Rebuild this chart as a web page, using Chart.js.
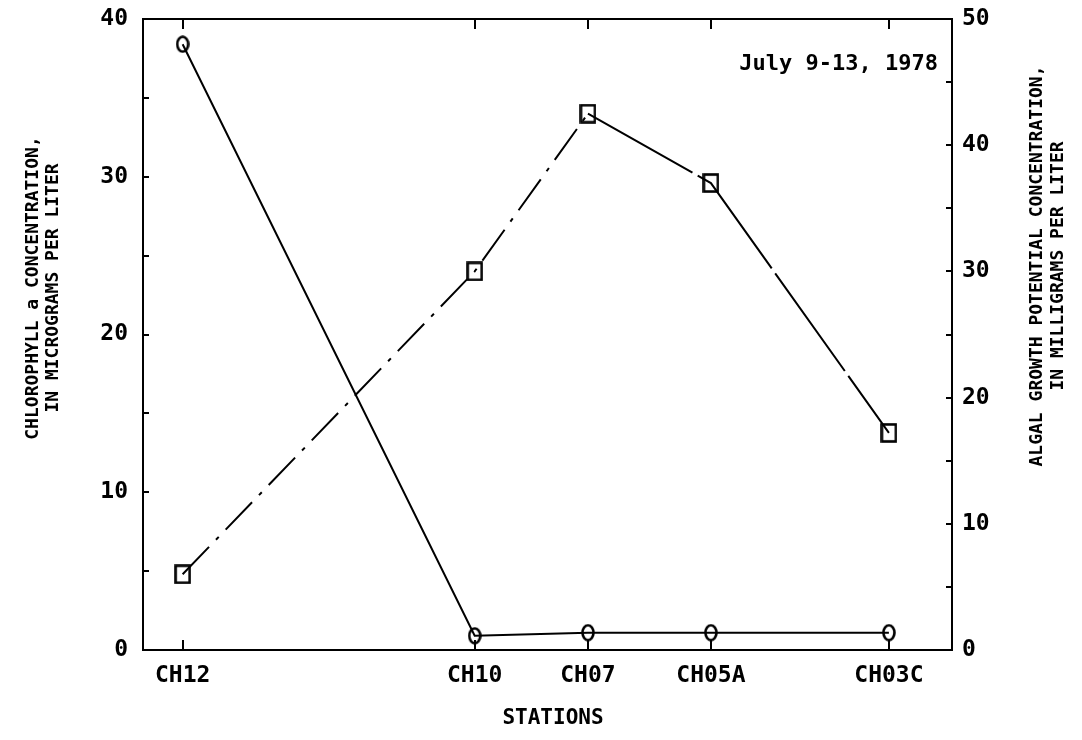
<!DOCTYPE html>
<html>
<head>
<meta charset="utf-8">
<script src="https://cdn.jsdelivr.net/npm/chart.js@4/dist/chart.umd.min.js"></script>
<style>
  body { margin: 0; background: #fff; }
  #wrap { width: 1082px; height: 740px; }
</style>
</head>
<body>
<div id="wrap"><canvas id="agpChart" width="1082" height="740"></canvas></div>
<script>
// stations along the channel, x position in plot units (0-100)
const stations = ['CH12', 'CH10', 'CH07', 'CH05A', 'CH03C'];
const stationPos = [4.9, 41.0, 55.0, 70.2, 92.2];

// chlorophyll a, micrograms per liter (left axis)
const chlorophyll = [38.4, 0.9, 1.1, 1.1, 1.1];
// algal growth potential, milligrams per liter (right axis)
const agp = [6.0, 30.0, 42.5, 37.0, 17.2];

const TICK_FONT = { family: 'DejaVu Sans Mono', size: 23, weight: 'bold' };
const TITLE_FONT = 'bold 18px "DejaVu Sans Mono"';

function makeMarker(w, h, shape) {
    const c = document.createElement('canvas');
    c.width = w; c.height = h;
    const g = c.getContext('2d');
    g.strokeStyle = '#000';
    g.lineWidth = 2.6;
    if (shape === 'ellipse') {
        g.beginPath();
        g.ellipse(w / 2, h / 2, w / 2 - 1.5, h / 2 - 1.5, 0, 0, Math.PI * 2);
        g.stroke();
    } else {
        g.strokeRect(1.5, 1.5, w - 3, h - 3);
    }
    return c;
}

const circleMark = makeMarker(14, 18, 'ellipse');
const squareMark = makeMarker(17, 20, 'rect');

// no extra room around the plot for half-height labels
function fixPad(s) {
    s.paddingTop = 0;
    s.paddingBottom = 0;
    s.paddingLeft = 0;
    s.paddingRight = 0;
}

// axis titles and the date note
const textPlugin = {
    id: 'texts',
    afterDraw(chart) {
        const ctx = chart.ctx;
        ctx.save();
        ctx.fillStyle = '#000';
        ctx.font = TITLE_FONT;
        ctx.textBaseline = 'middle';
        ctx.textAlign = 'center';

        function vertical(text, x, y) {
            ctx.save();
            ctx.translate(x, y);
            ctx.rotate(-Math.PI / 2);
            ctx.fillText(text, 0, 0);
            ctx.restore();
        }

        vertical('CHLOROPHYLL a CONCENTRATION,', 33, 288);
        vertical('IN MICROGRAMS PER LITER', 53, 288);
        vertical('ALGAL GROWTH POTENTIAL CONCENTRATION,', 1037, 266);
        vertical('IN MILLIGRAMS PER LITER', 1058, 266);

        ctx.font = 'bold 21px "DejaVu Sans Mono"';
        ctx.fillText('STATIONS', 553, 719);

        ctx.font = 'bold 22px "DejaVu Sans Mono"';
        ctx.textAlign = 'right';
        ctx.fillText('July 9-13, 1978', 938, 64);
        ctx.restore();
    }
};

const ctx = document.getElementById('agpChart').getContext('2d');

new Chart(ctx, {
    type: 'line',
    data: {
        datasets: [{
            label: 'Chlorophyll a',
            data: stationPos.map((x, i) => ({ x: x, y: chlorophyll[i] })),
            xAxisID: 'x',
            yAxisID: 'y',
            borderColor: '#000',
            borderWidth: 2,
            pointStyle: circleMark,
            tension: 0
        }, {
            label: 'Algal growth potential',
            data: stationPos.map((x, i) => ({ x: x, y: agp[i] })),
            xAxisID: 'x',
            yAxisID: 'y2',
            borderColor: '#000',
            borderWidth: 2,
            pointStyle: squareMark,
            tension: 0,
            segment: {
                borderDash: c => c.p0DataIndex < 2 ? [38, 10, 4, 10] : [120, 6]
            }
        }]
    },
    options: {
        responsive: false,
        animation: false,
        layout: { padding: 0 },
        plugins: {
            legend: { display: false },
            tooltip: { enabled: false }
        },
        scales: {
            x: {
                type: 'linear',
                position: 'bottom',
                min: 0,
                max: 100,
                afterBuildTicks: s => { s.ticks = stationPos.map(v => ({ value: v })); },
                afterFit: s => { s.height = 90; fixPad(s); },
                ticks: {
                    autoSkip: false,
                    maxRotation: 0,
                    color: '#000',
                    font: TICK_FONT,
                    padding: 22,
                    callback: (v, i) => stations[i]
                },
                grid: { drawOnChartArea: false, tickLength: -10, color: '#000', lineWidth: 2 },
                border: { color: '#000', width: 2 }
            },
            x2: {
                type: 'linear',
                position: 'top',
                min: 0,
                max: 100,
                afterBuildTicks: s => { s.ticks = stationPos.map(v => ({ value: v })); },
                afterFit: s => { s.height = 19; fixPad(s); },
                ticks: { autoSkip: false, callback: () => '' },
                grid: { drawOnChartArea: false, tickLength: -10, color: '#000', lineWidth: 2 },
                border: { color: '#000', width: 2 }
            },
            y: {
                position: 'left',
                min: 0,
                max: 40,
                afterFit: s => { s.width = 143; fixPad(s); },
                ticks: {
                    stepSize: 5,
                    autoSkip: false,
                    color: '#000',
                    font: TICK_FONT,
                    padding: 21,
                    callback: v => v % 10 === 0 ? v : ''
                },
                grid: { drawOnChartArea: false, tickLength: -6, color: '#000', lineWidth: 2 },
                border: { color: '#000', width: 2 }
            },
            y2: {
                position: 'right',
                min: 0,
                max: 50,
                afterFit: s => { s.width = 130; fixPad(s); },
                ticks: {
                    stepSize: 5,
                    autoSkip: false,
                    color: '#000',
                    font: TICK_FONT,
                    padding: 16,
                    callback: v => v % 10 === 0 ? v : ''
                },
                grid: { drawOnChartArea: false, tickLength: -6, color: '#000', lineWidth: 2 },
                border: { color: '#000', width: 2 }
            }
        }
    },
    plugins: [textPlugin]
});
</script>
</body>
</html>
